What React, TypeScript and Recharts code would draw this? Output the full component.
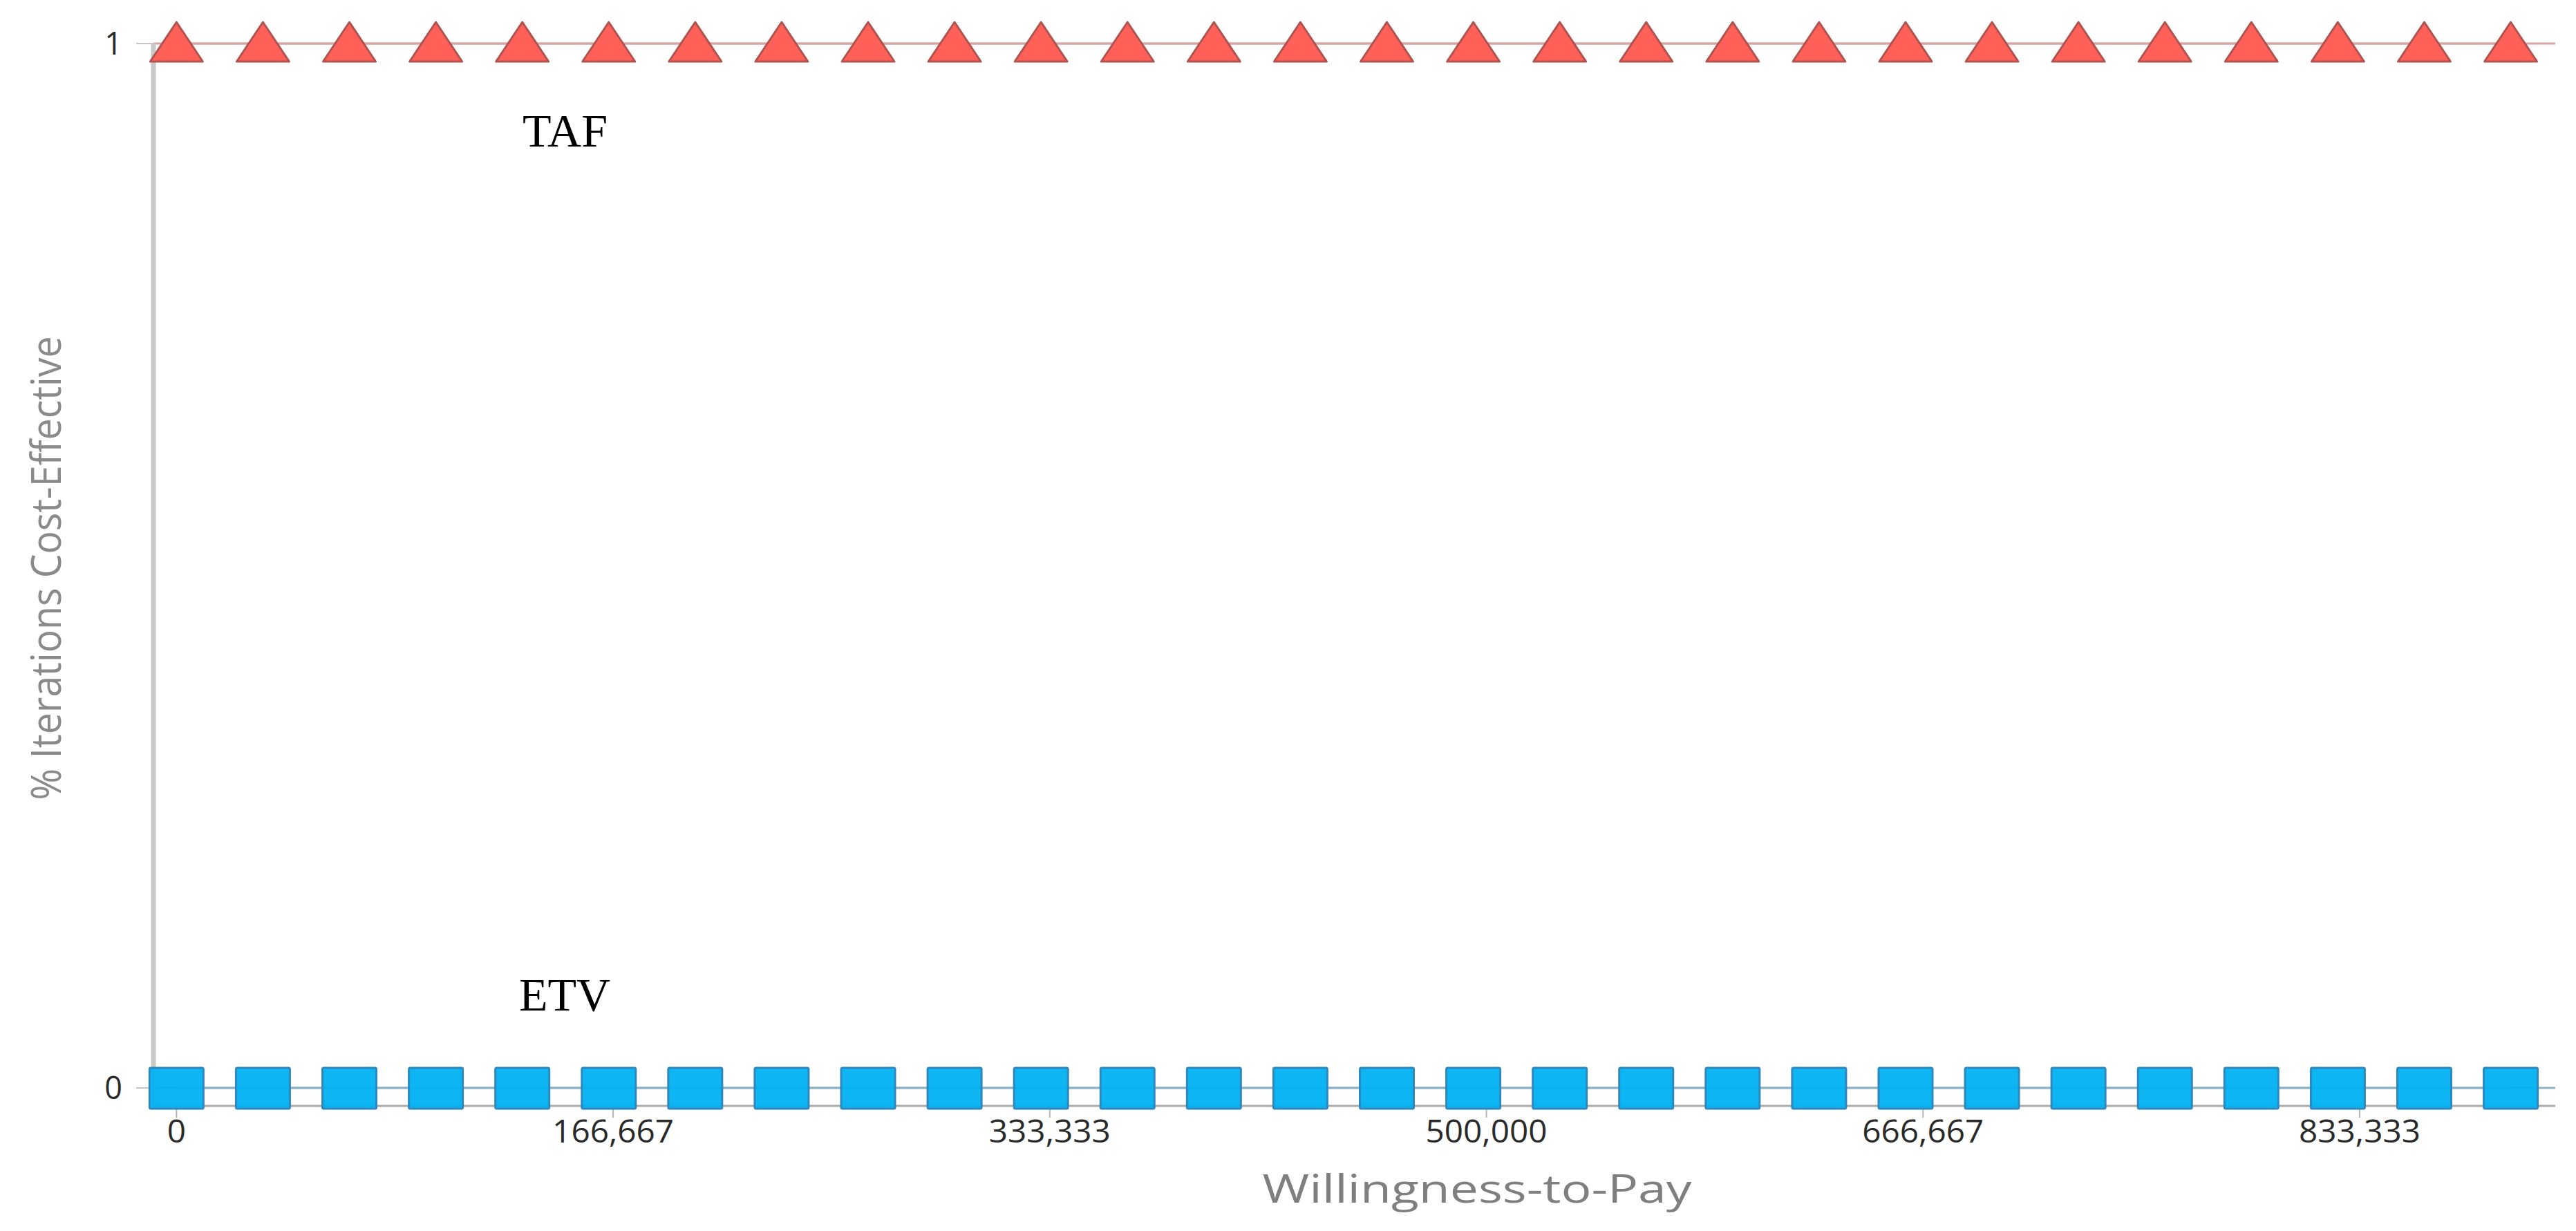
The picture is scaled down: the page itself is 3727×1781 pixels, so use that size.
import React from "react";
import { ScatterChart, Scatter, XAxis, YAxis, ReferenceLine } from "recharts";

// willingness-to-pay steps on the x axis
const wtp = [
  0, 33000, 66000, 99000, 132000, 165000, 198000, 231000, 264000, 297000,
  330000, 363000, 396000, 429000, 462000, 495000, 528000, 561000, 594000, 627000,
  660000, 693000, 726000, 759000, 792000, 825000, 858000, 891000,
];
// share of iterations cost-effective
const tafShare = [1, 1, 1, 1, 1, 1, 1, 1, 1, 1, 1, 1, 1, 1, 1, 1, 1, 1, 1, 1, 1, 1, 1, 1, 1, 1, 1, 1];
const etvShare = [0, 0, 0, 0, 0, 0, 0, 0, 0, 0, 0, 0, 0, 0, 0, 0, 0, 0, 0, 0, 0, 0, 0, 0, 0, 0, 0, 0];
const xTicks = [0, 166667, 333333, 500000, 666667, 833333];
const yTicks = [0, 1];

const tafData = wtp.map((x, i) => ({ x, y: tafShare[i] }));
const etvData = wtp.map((x, i) => ({ x, y: etvShare[i] }));

const W = 3727;
const H = 1781;
const sans = "'Open Sans', 'Noto Sans', sans-serif";
const serif = "'Liberation Serif', 'Times New Roman', serif";

function Triangle(props: any) {
  const { cx, cy } = props;
  const pts = `${cx},${cy - 31} ${cx + 38},${cy + 26} ${cx - 38},${cy + 26}`;
  return <polygon points={pts} fill="#ff6159" stroke="#b0524e" strokeWidth={3} strokeLinejoin="round" />;
}

function Square(props: any) {
  const { cx, cy } = props;
  return (
    <rect x={cx - 39} y={cy - 29} width={78} height={59} fill="#00b2f2" fillOpacity={0.95} stroke="#2f88bd" strokeWidth={3} rx={2} />
  );
}

function XTick(props: any) {
  const { x, y, payload } = props;
  return (
    <text
      transform={`translate(${x},${y + 34}) scale(1.06,1)`}
      textAnchor="middle"
      fontFamily={sans}
      fontSize={45}
      fill="#2a2a2a"
    >
      {Number(payload.value).toLocaleString("en-US")}
    </text>
  );
}

function YTick(props: any) {
  const { x, y, payload } = props;
  return (
    <text x={x - 18} y={y} dy="0.36em" textAnchor="end" fontFamily={sans} fontSize={45} fill="#2a2a2a">
      {payload.value}
    </text>
  );
}

export default function App() {
  return (
    <div style={{ position: "absolute", left: 0, top: 0, width: W, height: H, background: "#fff" }}>
      <ScatterChart width={W} height={H} margin={{ top: 63, right: 30, bottom: 0, left: 0 }}>
        <XAxis
          type="number"
          dataKey="x"
          domain={[-8800, 908000]}
          ticks={xTicks}
          interval={0}
          height={181}
          tickSize={17}
          tick={<XTick />}
          axisLine={{ stroke: "#ababab", strokeWidth: 3 }}
          tickLine={{ stroke: "#b5b5b5", strokeWidth: 2 }}
        />
        <YAxis
          type="number"
          dataKey="y"
          domain={[-0.0172, 1]}
          ticks={yTicks}
          interval={0}
          width={222}
          tickSize={25}
          tick={<YTick />}
          axisLine={{ stroke: "#c8c8c8", strokeWidth: 7 }}
          tickLine={{ stroke: "#c4c4c4", strokeWidth: 2 }}
        />
        <ReferenceLine y={1} stroke="#d8a4a4" strokeWidth={3} />
        <ReferenceLine y={0} stroke="#8fb3c6" strokeWidth={3} />
        <Scatter
          name="TAF"
          data={tafData}
          shape={<Triangle />}
          line={{ stroke: "#d8a4a4", strokeWidth: 3 }}
          isAnimationActive={false}
        />
        <Scatter
          name="ETV"
          data={etvData}
          shape={<Square />}
          line={{ stroke: "#8fb3c6", strokeWidth: 3 }}
          isAnimationActive={false}
        />
      </ScatterChart>
      <svg width={W} height={H} style={{ position: "absolute", left: 0, top: 0, pointerEvents: "none" }}>
        <text
          transform="translate(65,822) rotate(-90)"
          textAnchor="middle"
          dominantBaseline="central"
          fontFamily={sans}
          fontSize={60}
          fill="#8a8a8a"
          textLength={671}
          lengthAdjust="spacingAndGlyphs"
        >
          % Iterations Cost-Effective
        </text>
        <text
          x={2137}
          y={1740}
          textAnchor="middle"
          fontFamily={sans}
          fontSize={56}
          fill="#7f7f7f"
          textLength={621}
          lengthAdjust="spacingAndGlyphs"
        >
          Willingness-to-Pay
        </text>
        <text x={756} y={212} fontFamily={serif} fontSize={68} fill="#000">
          TAF
        </text>
        <text x={751} y={1462} fontFamily={serif} fontSize={68} fill="#000">
          ETV
        </text>
      </svg>
    </div>
  );
}
